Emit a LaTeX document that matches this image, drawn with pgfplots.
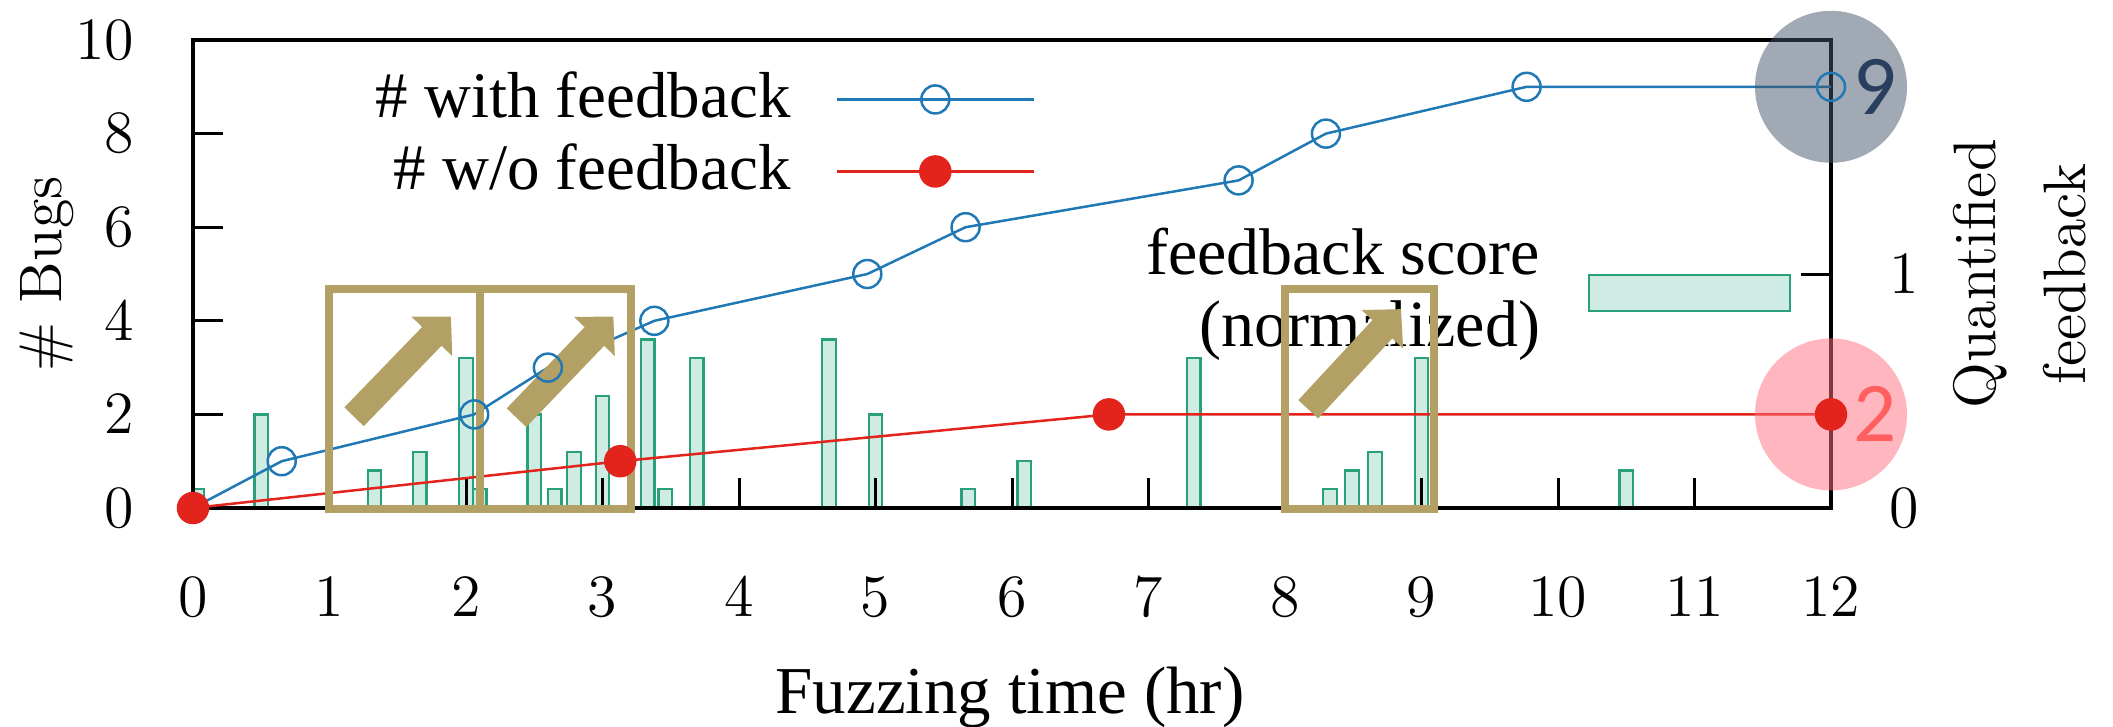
\documentclass[border=0pt]{standalone}
\usepackage{fontspec}
\setmainfont{Liberation Serif}
\newfontfamily\carlito{Carlito}
\usepackage{pgfplots}
\usepackage{pgfplotstable}
\pgfplotsset{compat=1.18}
\usetikzlibrary{arrows.meta}

\definecolor{cBlue}{RGB}{32,120,180}
\definecolor{cRed}{RGB}{226,36,28}
\definecolor{cBarFill}{RGB}{206,236,227}
\definecolor{cBarEdge}{RGB}{42,160,122}
\definecolor{cKhaki}{RGB}{178,160,100}
\definecolor{cGray}{RGB}{68,84,106}
\definecolor{cPink}{RGB}{255,110,125}
\definecolor{cNine}{RGB}{42,62,95}
\definecolor{cTwo}{RGB}{255,95,95}

\newcommand\lmfont{\fontfamily{lmr}\selectfont}

% normalized feedback score, right axis
\pgfplotstableread{
x h
0.03 0.08
0.50 0.40
1.33 0.16
1.66 0.24
2.00 0.64
2.10 0.08
2.50 0.40
2.65 0.08
2.79 0.24
3.00 0.48
3.33 0.72
3.46 0.08
3.69 0.64
4.66 0.72
5.00 0.40
5.68 0.08
6.09 0.20
7.33 0.64
8.33 0.08
8.49 0.16
8.66 0.24
9.00 0.64
10.50 0.16
}\scoretable

\begin{document}
\begin{tikzpicture}
\pgfplotsset{every axis/.append style={scale only axis,width=327.6pt,height=93.6pt,
  xmin=0,xmax=12,tick align=inside,major tick length=6pt,
  every tick/.style={black,line width=0.6pt},
  tick label style={font=\fontsize{12.8}{14}\selectfont}}}

\begin{axis}[axis y line*=right,axis x line=none,ymin=0,ymax=2,ytick={0,1},
  axis line style={-,line width=0.7pt},
  yticklabel style={anchor=west,inner sep=0pt,xshift=11.4pt}]
\addplot[ybar,bar width=0.1,fill=cBarFill,draw=cBarEdge,line width=0.45pt] table[x=x,y=h] {\scoretable};
\end{axis}

\begin{axis}[ymin=0,ymax=10,ytick={0,2,...,10},xtick={0,...,12},tick pos=left,
  axis line style={line width=0.7pt},clip=false,
  yticklabel style={anchor=east,inner sep=0pt,xshift=-11.6pt},
  xticklabel style={anchor=north,inner sep=0pt,yshift=-13.8pt},
  xlabel={Fuzzing time (hr)},
  xlabel style={at={(axis description cs:0.4988,0)},anchor=base,yshift=-41pt,
    font=\fontsize{13.4}{16}\selectfont},
  ylabel={\# Bugs},
  ylabel style={at={(axis description cs:-0.080,0.5)},anchor=base,
    font=\lmfont\fontsize{12}{14}\selectfont},
  legend cell align=right,legend plot pos=right,
  legend image code/.code={\draw[mark repeat=2,mark phase=2,#1]
    plot coordinates {(0pt,0.5pt)(19.7pt,0.5pt)(39.4pt,0.5pt)};},
  legend style={draw=none,fill=none,at={(0.5147,0.936)},anchor=north east,
    inner sep=0pt,row sep=2pt,font=\fontsize{13}{16}\selectfont,
    nodes={inner sep=0pt,text height=9.4pt,text depth=3pt},
    /tikz/every odd column/.append style={column sep=9pt}}]
\addplot[color=cBlue,line width=0.5pt,mark=o,mark size=2.8pt,mark options={line width=0.5pt}]
  coordinates {(0,0)(0.65,1)(2.06,2)(2.6,3)(3.38,4)(4.94,5)(5.66,6)(7.66,7)(8.3,8)(9.77,9)(12,9)};
\addlegendentry{\# with feedback}
\addplot[color=cRed,line width=0.5pt,mark=*,mark size=3pt]
  coordinates {(0,0)(3.13,1)(6.71,2)(12,2)};
\addlegendentry{\# w/o feedback}

% legend of the bars
\node[anchor=base east,inner sep=0pt,font=\fontsize{13.2}{16}\selectfont] at (axis cs:9.875,4.984) {feedback score};
\node[anchor=base east,inner sep=0pt,font=\fontsize{13.2}{16}\selectfont] at (axis cs:9.875,3.444) {(normalized)};
\draw[fill=cBarFill,draw=cBarEdge,line width=0.45pt] (axis cs:10.227,4.214) rectangle (axis cs:11.70,4.984);

% right axis label
\node[rotate=90,align=center,font=\lmfont\fontsize{12}{18}\selectfont]
  at (axis description cs:1.1154,0.5) {Quantified\\feedback};

% highlighted windows
\draw[cKhaki,line width=1.6pt] (axis cs:1.0,-0.02) rectangle (axis cs:2.1,4.68);
\draw[cKhaki,line width=1.6pt] (axis cs:2.1,-0.02) rectangle (axis cs:3.21,4.68);
\draw[cKhaki,line width=1.6pt] (axis cs:8.0,-0.02) rectangle (axis cs:9.09,4.68);
\draw[cKhaki,line width=5.4pt,-{Triangle[length=5.5pt,width=11pt]}] (axis cs:1.18,1.95) -- (axis cs:1.89,4.09);
\draw[cKhaki,line width=5.4pt,-{Triangle[length=5.5pt,width=11pt]}] (axis cs:2.37,1.93) -- (axis cs:3.08,4.09);
\draw[cKhaki,line width=5.4pt,-{Triangle[length=5.5pt,width=11pt]}] (axis cs:8.17,2.11) -- (axis cs:8.85,4.25);

% final counts
\fill[cGray,fill opacity=0.5] (axis cs:12,9) circle[radius=15.2pt];
\fill[cPink,fill opacity=0.5] (axis cs:12,2) circle[radius=15.2pt];
\node[text=cNine,font=\carlito\fontsize{17}{17}\selectfont] at (axis cs:12.32,9) {9};
\node[text=cTwo,font=\carlito\fontsize{17}{17}\selectfont] at (axis cs:12.32,2) {2};
\end{axis}

\pgfresetboundingbox
\path[use as bounding box] (-38.6pt,-43.6pt) rectangle (384pt,101.6pt);
\end{tikzpicture}
\end{document}
